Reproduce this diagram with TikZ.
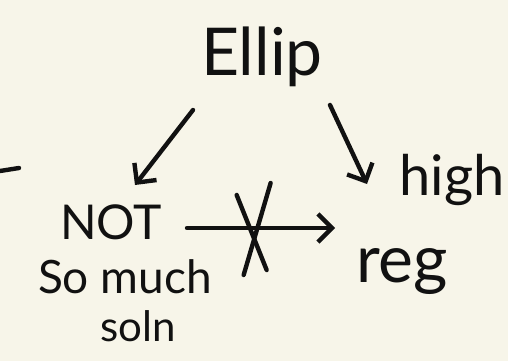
\documentclass[tikz,border=0pt]{standalone}
\usepackage{fontspec}
\setmainfont{Lato}
\usetikzlibrary{arrows.meta,calc}
\definecolor{paper}{HTML}{F7F5E9}
\definecolor{ink}{HTML}{111111}
\tikzset{
  pen/.style={draw=ink,line width=4.4pt,line cap=round,line join=round},
  penarrow/.style={pen,-{Straight Barb[length=14pt,width=28pt,line width=4.4pt]}},
  word/.style={inner sep=0pt,text=ink},
}
\begin{document}
\begin{tikzpicture}[x=1pt,y=-1pt]
\fill[paper] (0,0) rectangle (508,361);
\useasboundingbox (0,0) rectangle (508,361);
\node[word,font=\fontsize{66}{66}\selectfont] (ellip) at (262,57) {Ellip};
\node[word,font=\fontsize{48}{48}\selectfont] (not) at (111,222) {NOT};
\node[word,font=\fontsize{46}{46}\selectfont] (somuch) at (125,277) {So much};
\node[word,font=\fontsize{42}{42}\selectfont] (soln) at (138,326) {soln};
\node[word,font=\fontsize{56}{56}\selectfont] (high) at (452,180) {high};
\node[word,font=\fontsize{66}{66}\selectfont] (reg) at (402,272) {reg};
% Ellip -> NOT
\coordinate (a1) at (193,110);
\coordinate (a2) at (135,185);
\draw[penarrow] (a1) -- (a2);
% Ellip -> high/reg
\coordinate (b1) at (330,105);
\coordinate (b2) at (367,184);
\draw[penarrow] (b1) -- (b2);
% NOT -> reg (crossed out)
\coordinate (hs) at (187,228);
\coordinate (he) at (335,228);
\draw[penarrow] (hs) -- (he);
\coordinate (x) at ($(hs)!0.43!(he)$);
\draw[pen] ($(x)+(-14,-33)$) -- ($(x)+(16,42)$);
\draw[pen] ($(x)+(20,-45)$) -- ($(x)+(-7,47)$);
% stray mark at left edge
\coordinate (m1) at (0,171);
\coordinate (m2) at (19,168);
\draw[pen] (m1) -- (m2);
\end{tikzpicture}
\end{document}
